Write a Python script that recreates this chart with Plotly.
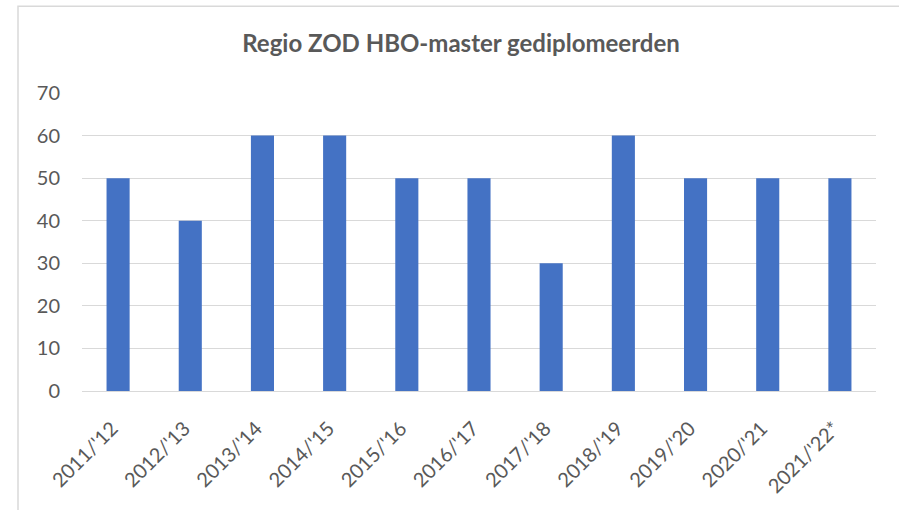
import plotly.graph_objects as go

categories = ["2011/'12", "2012/'13", "2013/'14", "2014/'15", "2015/'16", "2016/'17",
              "2017/'18", "2018/'19", "2019/'20", "2020/'21", "2021/'22*"]
values = [50, 40, 60, 60, 50, 50, 30, 60, 50, 50, 50]
y_ticks = [0, 10, 20, 30, 40, 50, 60, 70]

W, H = 899, 510
L, R, T, B = 82, 23, 92.7, 119.3
pw, ph = W - L - R, H - T - B

def px2paper(x, y):
    return (x - L) / pw, (H - B - y) / ph

fig = go.Figure(go.Bar(x=categories, y=values, marker_color="#4472C4",
                       marker_line_width=0))

x0, y0 = px2paper(18, 6)
x1, y1 = px2paper(910, 520)
fig.add_shape(type="rect", xref="paper", yref="paper", x0=x0, y0=y1, x1=x1, y1=y0,
              line=dict(color="#D9D9D9", width=1.5), fillcolor="rgba(0,0,0,0)", layer="below")

fig.update_layout(
    width=W, height=H,
    margin=dict(l=L, r=R, t=T, b=B, pad=0),
    paper_bgcolor="white", plot_bgcolor="white",
    bargap=0.68,
    showlegend=False,
    font=dict(family="Lato", color="#595959", size=20),
    title=dict(text="<b>Regio ZOD HBO-master gediplomeerden</b>", x=461 / W, xanchor="center",
               xref="container", y=1 - 44 / H, yanchor="middle", yref="container",
               font=dict(family="Lato", size=24, color="#595959")),
    xaxis=dict(tickangle=-45, showgrid=False, showline=False, ticks="",
               ticklabelstandoff=21, ticklabelshift=-6,
               tickfont=dict(size=20, color="#595959")),
    yaxis=dict(range=[0, 70], tickvals=y_ticks, showgrid=True, gridcolor="#D9D9D9",
               gridwidth=1.3, zeroline=True, zerolinecolor="#D9D9D9", zerolinewidth=1.3,
               showline=False, ticks="", ticklabelstandoff=21,
               tickfont=dict(size=20, color="#595959")),
)

fig.write_html("out.html", config={"displayModeBar": False},
               post_script="document.body.style.margin='0';document.body.style.overflow='hidden';")
